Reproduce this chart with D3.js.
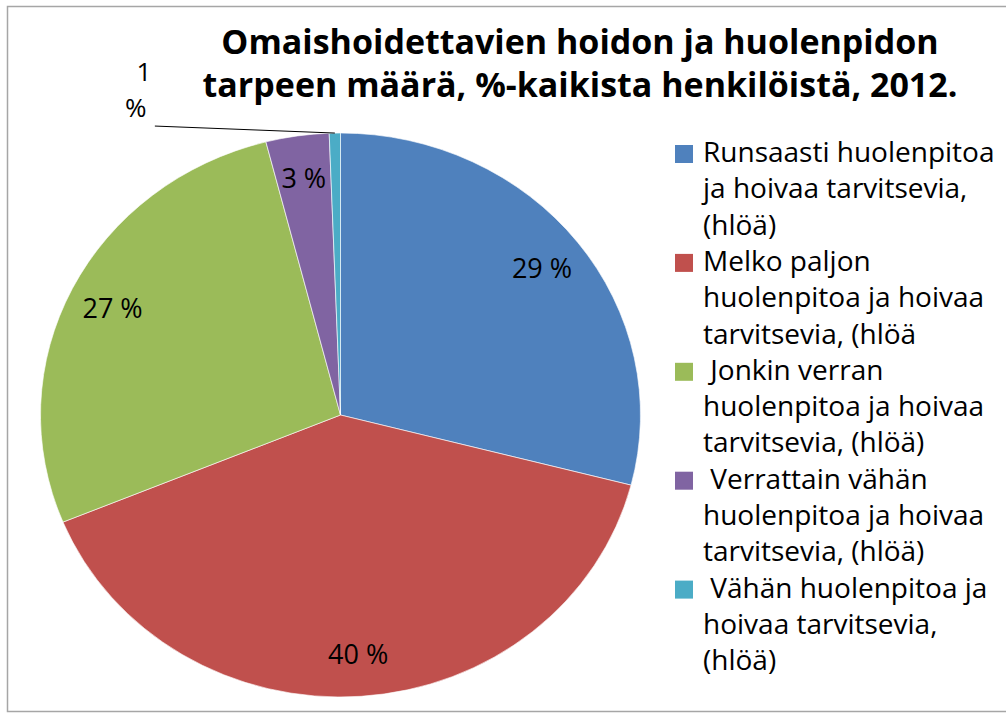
<!DOCTYPE html>
<html>
<head>
<meta charset="utf-8">
<script src="https://cdn.jsdelivr.net/npm/d3@7"></script>
<style>
  body { margin: 0; background: #fff; }
  svg { display: block; font-family: "Open Sans", sans-serif; }
</style>
</head>
<body>
<script>
const title = [
  "Omaishoidettavien hoidon ja huolenpidon",
  "tarpeen määrä, %-kaikista henkilöistä, 2012."
];
const categories = [
  "Runsaasti huolenpitoa\nja hoivaa tarvitsevia,\n(hlöä)",
  "Melko paljon\nhuolenpitoa ja hoivaa\ntarvitsevia, (hlöä",
  " Jonkin verran\nhuolenpitoa ja hoivaa\ntarvitsevia, (hlöä)",
  " Verrattain vähän\nhuolenpitoa ja hoivaa\ntarvitsevia, (hlöä)",
  " Vähän huolenpitoa ja\nhoivaa tarvitsevia,\n(hlöä)"
];
const values = [29.0, 39.8, 27.2, 3.4, 0.6];
const colors = ["#4f81bd", "#c0504d", "#9bbb59", "#8064a2", "#4bacc6"];

const width = 1006;
const height = 713;
const cx = 340.5, cy = 415;
const r = 282;
const sx = 300 / 282;

const svg = d3.select("body")
  .append("svg")
  .attr("width", width)
  .attr("height", height);

// chart frame
svg.append("rect")
  .attr("x", 7.5).attr("y", 6.5)
  .attr("width", 1010).attr("height", 705)
  .attr("fill", "#fff")
  .attr("stroke", "#a6a6a6")
  .attr("stroke-width", 1.5);

// title
svg.append("g")
  .selectAll("text")
  .data(title)
  .enter()
  .append("text")
  .attr("x", 580)
  .attr("y", (d, i) => 54 + i * 43)
  .attr("text-anchor", "middle")
  .attr("font-size", 34)
  .attr("font-weight", "bold")
  .attr("fill", "#000")
  .text((d) => d);

const pie = d3.pie().sort(null).value((d) => d)(values);
const arc = d3.arc().innerRadius(0).outerRadius(r);
const labelArc = d3.arc().innerRadius(r * 0.85).outerRadius(r * 0.85);

svg.append("g")
  .attr("transform", `translate(${cx},${cy}) scale(${sx},1)`)
  .selectAll("path")
  .data(pie)
  .enter()
  .append("path")
  .attr("d", arc)
  .attr("fill", (d, i) => colors[i])
  .attr("stroke", "#fff")
  .attr("stroke-width", 0.6);

// inside labels
const pct = (d) => Math.round(d.data) + " %";
svg.append("g")
  .selectAll("text")
  .data(pie.filter((d) => d.data >= 1))
  .enter()
  .append("text")
  .attr("x", (d) => cx + labelArc.centroid(d)[0] * sx)
  .attr("y", (d) => cy + labelArc.centroid(d)[1] + 10)
  .attr("text-anchor", "middle")
  .attr("font-size", 27)
  .attr("fill", "#000")
  .text(pct);

// small slice label with leader line
const small = pie.filter((d) => d.data < 1);
small.forEach((d) => {
  const edge = d3.arc().innerRadius(r).outerRadius(r).centroid(d);
  const ex = cx + edge[0] * sx, ey = cy + edge[1];
  svg.append("line")
    .attr("x1", ex).attr("y1", ey)
    .attr("x2", ex - 180).attr("y2", ey - 7)
    .attr("stroke", "#000")
    .attr("stroke-width", 1);
  const t = svg.append("text")
    .attr("font-size", 26)
    .attr("fill", "#000")
    .attr("text-anchor", "middle");
  t.append("tspan").attr("x", ex - 191).attr("y", ey - 52).text(Math.round(d.data));
  t.append("tspan").attr("x", ex - 199).attr("y", ey - 16).text("%");
});

// legend
const lineH = 36.3;
let lineNo = 0;
const legend = svg.append("g").attr("transform", "translate(675,0)");
categories.forEach((c, i) => {
  const lines = c.split("\n");
  const y0 = 162 + lineNo * lineH;
  legend.append("rect")
    .attr("x", 0).attr("y", y0 - 17)
    .attr("width", 18).attr("height", 18)
    .attr("fill", colors[i]);
  const t = legend.append("text")
    .attr("font-size", 28)
    .attr("fill", "#000")
    .style("white-space", "pre");
  lines.forEach((l, j) => {
    t.append("tspan")
      .attr("x", 28)
      .attr("y", y0 + j * lineH)
      .text(l);
  });
  lineNo += lines.length;
});
</script>
</body>
</html>
